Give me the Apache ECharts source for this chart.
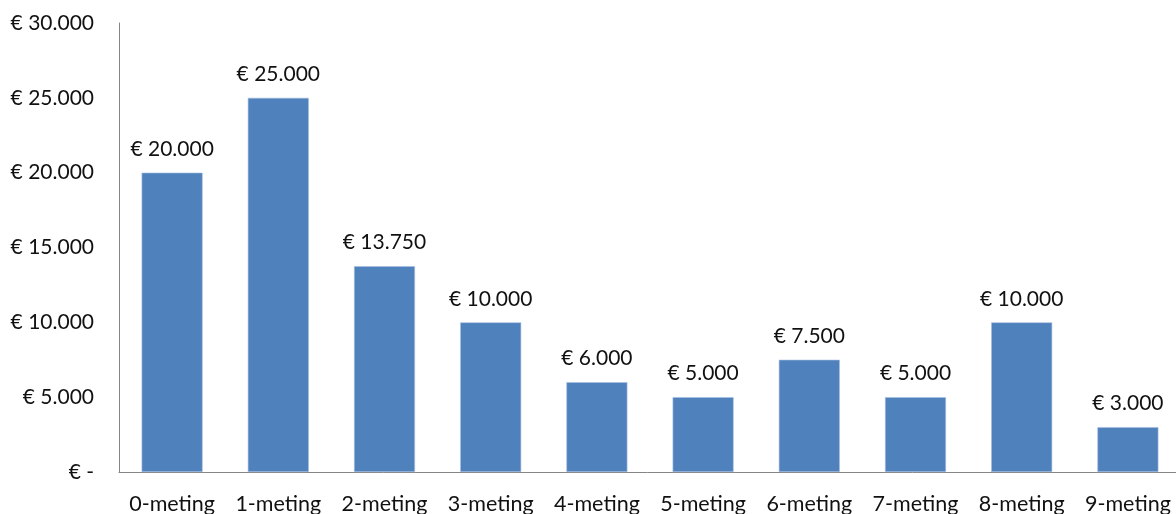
<!DOCTYPE html>
<html lang="nl">
<head>
<meta charset="UTF-8" />
<title>Metingen</title>
<script src="https://cdn.jsdelivr.net/npm/echarts@6/dist/echarts.min.js"></script>
<style>
  html, body { margin: 0; padding: 0; background: #fff; }
  #chart { width: 1176px; height: 514px; }
</style>
</head>
<body>
<div id="chart"></div>
<script>
  const categories = ['0-meting', '1-meting', '2-meting', '3-meting', '4-meting',
    '5-meting', '6-meting', '7-meting', '8-meting', '9-meting'];
  const values = [20000, 25000, 13750, 10000, 6000, 5000, 7500, 5000, 10000, 3000];

  // euro with dot as thousands separator, zero shown as a dash
  function euro(v) {
    if (v === 0) return '€ -';
    return '€ ' + String(v).replace(/\B(?=(\d{3})+(?!\d))/g, '.');
  }

  const font = 'Lato, "Open Sans", sans-serif';
  const chart = echarts.init(document.getElementById('chart'));

  chart.setOption({
    animation: false,
    grid: {
      left: 119, top: 23, width: 1062, height: 449,
      containLabel: false, outerBoundsMode: 'none'
    },
    xAxis: {
      type: 'category',
      data: categories,
      axisLine: { lineStyle: { color: '#868686', width: 1 } },
      axisTick: { show: false },
      axisLabel: { interval: 0, color: '#111', fontFamily: font, fontSize: 21.5, margin: 21 }
    },
    yAxis: {
      type: 'value',
      min: 0,
      max: 30000,
      interval: 5000,
      axisLine: { show: true, lineStyle: { color: '#868686', width: 1 } },
      axisTick: { show: false },
      splitLine: { show: false },
      axisLabel: {
        color: '#111', fontFamily: font, fontSize: 21, margin: 25,
        formatter: euro
      }
    },
    series: [{
      type: 'bar',
      data: values,
      barWidth: 61,
      itemStyle: { color: '#4F81BD', borderColor: '#a9c0df', borderWidth: 0.6 },
      label: {
        show: true,
        position: 'top',
        distance: 13,
        color: '#111',
        fontFamily: font,
        fontSize: 21,
        formatter: p => euro(p.value)
      }
    }]
  });
</script>
</body>
</html>
